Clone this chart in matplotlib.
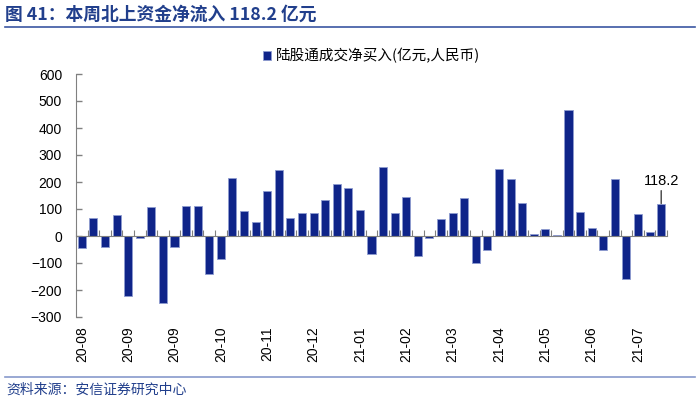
import numpy as np
import matplotlib
matplotlib.use("Agg")
import matplotlib.pyplot as plt
from matplotlib.lines import Line2D
from matplotlib.patches import Patch
import matplotlib.transforms as mtransforms

plt.rcParams['font.family'] = ['Liberation Sans', 'Noto Sans CJK SC', 'DejaVu Sans']

# weekly net buying via Stock Connect (100m CNY)
values = [-45, 66, -42, 79, -224, -6, 108, -248, -41, 111, 110, -140, -84,
          213, 92, 53, 167, 245, 68, 84, 85, 135, 191, 179, 95, -67, 254,
          87, 146, -75, -9, 64, 87, 142, -99, -53, 248, 210, 121, 6, 26, 5,
          468, 89, 28, -50, 210, -158, 82, 16, 118.2]
month_labels = ["20-08", "20-09", "20-09", "20-10", "20-11", "20-12", "21-01",
                "21-02", "21-03", "21-04", "21-05", "21-06", "21-07"]
label_step = 4
series_name = "陆股通成交净买入(亿元,人民币)"
title = "图 41：本周北上资金净流入 118.2 亿元"
source = "资料来源：安信证券研究中心"

bar_color = "#0f2489"
edge_color = "#8e9bd0"
axis_gray = "#808080"
dark_blue = "#213f8c"

W, H = 700, 403
fig = plt.figure(figsize=(7, 4.03), dpi=100)
ax = fig.add_axes([76 / W, 1 - 317 / H, (667 - 76) / W, (317 - 74) / H])

x = np.arange(len(values))
ax.bar(x, values, width=0.7, color=bar_color, edgecolor=edge_color,
       linewidth=0.6, zorder=3)

ax.set_xlim(-0.5, len(values) - 0.5)
ax.set_ylim(-300, 600)
ax.set_yticks(np.arange(-300, 601, 100))
ax.tick_params(axis='y', direction='in', length=4, width=1, color=axis_gray,
               labelsize=10, pad=10)

for s in ['top', 'right']:
    ax.spines[s].set_visible(False)
ax.spines['left'].set_color(axis_gray)
ax.spines['bottom'].set_position(('data', 0))
ax.spines['bottom'].set_color(axis_gray)
ax.spines['bottom'].set_zorder(4)

# tick marks between categories on the zero line
ax.set_xticks(np.arange(-0.5, len(values), 1.0))
ax.set_xticklabels([])
ax.tick_params(axis='x', direction='in', length=4, width=0.8, color=axis_gray)

# category labels at the bottom of the plot
trans = mtransforms.blended_transform_factory(ax.transData, ax.transAxes)
for i, lab in zip(range(0, len(values), label_step), month_labels):
    ax.text(i, -0.04, lab, transform=trans, rotation=90, ha='center',
            va='top', fontsize=10)

# last value annotation
last = len(values) - 1
ax.annotate(f"{values[-1]:.1f}", xy=(last, values[-1] + 2),
            xytext=(last, values[-1] + 60), ha='center', va='bottom',
            fontsize=10.5,
            arrowprops=dict(arrowstyle='-', color='#404040', lw=1,
                            shrinkA=0, shrinkB=0))

# legend
handle = Patch(facecolor=bar_color, edgecolor=edge_color, linewidth=0.6)
fig.legend([handle], [series_name], loc='center left',
           bbox_to_anchor=(263 / W, 1 - 56 / H), frameon=False,
           handlelength=0.55, handleheight=0.55, handletextpad=0.35,
           borderpad=0, borderaxespad=0,
           prop={'family': ['Noto Sans CJK SC', 'DejaVu Sans'], 'size': 10.5})

# title and source
fig.text(5 / W, 1 - 15 / H, title, ha='left', va='center', fontsize=12.8,
         fontweight='bold', color=dark_blue,
         family=['Noto Sans CJK SC', 'DejaVu Sans'])
fig.add_artist(Line2D([5 / W, 695 / W], [1 - 27 / H, 1 - 27 / H],
                      color='#3b56a2', lw=1.2))
fig.add_artist(Line2D([5 / W, 695 / W], [1 - 377 / H, 1 - 377 / H],
                      color='#8799cc', lw=1.2))
fig.text(6 / W, 1 - 390 / H, source, ha='left', va='center', fontsize=10,
         color=dark_blue, style='italic',
         family=['Noto Sans CJK SC', 'DejaVu Sans'])

fig.savefig("out.png", dpi=100)
